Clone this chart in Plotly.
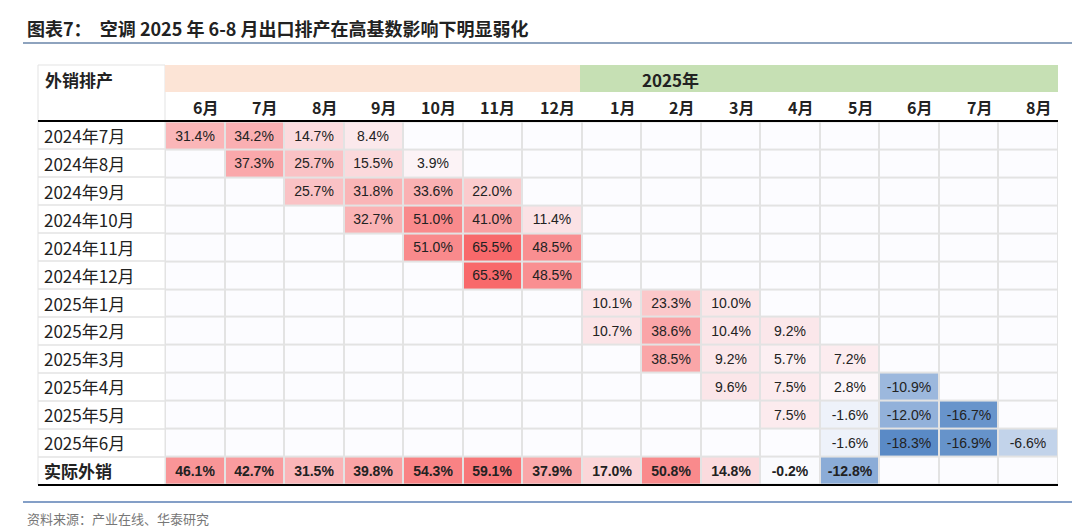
import plotly.graph_objects as go

W, H = 1080, 527
months = ["6月", "7月", "8月", "9月", "10月", "11月", "12月",
          "1月", "2月", "3月", "4月", "5月", "6月 ", "7月 ", "8月 "]
row_labels = ["2024年7月", "2024年8月", "2024年9月", "2024年10月", "2024年11月", "2024年12月",
              "2025年1月", "2025年2月", "2025年3月", "2025年4月", "2025年5月", "2025年6月", "实际外销"]
N = None
values = [
    [31.4, 34.2, 14.7, 8.4, N, N, N, N, N, N, N, N, N, N, N],
    [N, 37.3, 25.7, 15.5, 3.9, N, N, N, N, N, N, N, N, N, N],
    [N, N, 25.7, 31.8, 33.6, 22.0, N, N, N, N, N, N, N, N, N],
    [N, N, N, 32.7, 51.0, 41.0, 11.4, N, N, N, N, N, N, N, N],
    [N, N, N, N, 51.0, 65.5, 48.5, N, N, N, N, N, N, N, N],
    [N, N, N, N, N, 65.3, 48.5, N, N, N, N, N, N, N, N],
    [N, N, N, N, N, N, N, 10.1, 23.3, 10.0, N, N, N, N, N],
    [N, N, N, N, N, N, N, 10.7, 38.6, 10.4, 9.2, N, N, N, N],
    [N, N, N, N, N, N, N, N, 38.5, 9.2, 5.7, 7.2, N, N, N],
    [N, N, N, N, N, N, N, N, N, 9.6, 7.5, 2.8, -10.9, N, N],
    [N, N, N, N, N, N, N, N, N, N, 7.5, -1.6, -12.0, -16.7, N],
    [N, N, N, N, N, N, N, N, N, N, N, -1.6, -18.3, -16.9, -6.6],
    [46.1, 42.7, 31.5, 39.8, 54.3, 59.1, 37.9, 17.0, 50.8, 14.8, -0.2, -12.8, N, N, N],
]

z, text = [], []
for i, row in enumerate(values):
    z.append([0 if v is None else v for v in row])
    bold = i == len(values) - 1
    text.append(["" if v is None else (f"<b>{v:.1f}%</b>" if bold else f"{v:.1f}%") for v in row])

zmin, zmax = -18.3, 65.5
mid = -zmin / (zmax - zmin)

# pixel layout -> paper fractions
x0, x1, xl = 157, 1050, 30
y_top, y_bot = 113, 477
def px(x): return x / W
def py(y): return 1 - y / H

fig = go.Figure(go.Heatmap(
    z=z, x=list(range(15)), y=row_labels, text=text, texttemplate="%{text}",
    textfont=dict(size=14, color="#222", family="Liberation Sans Narrow, Liberation Sans"),
    colorscale=[[0, "#5A8AC6"], [mid, "#FCFCFF"], [1, "#F8696B"]],
    zmin=zmin, zmax=zmax, showscale=False, xgap=2, ygap=2, hoverinfo="skip"))

fig.update_xaxes(domain=[px(x0), px(x1)], showticklabels=False, showgrid=False, zeroline=False,
                 range=[-0.5, 14.5])
fig.update_yaxes(domain=[py(y_bot), py(y_top)], showticklabels=False, showgrid=False, zeroline=False,
                 autorange="reversed")

shapes = [
    dict(type="rect", xref="paper", yref="paper", x0=px(xl), x1=px(x0), y0=py(y_bot), y1=py(57),
         line=dict(color="#e3e3e3", width=1), fillcolor="white", layer="below"),
    dict(type="rect", xref="paper", yref="paper", x0=px(x0), x1=px(572), y0=py(84), y1=py(57),
         line_width=0, fillcolor="#FCE4D6", layer="below"),
    dict(type="rect", xref="paper", yref="paper", x0=px(572), x1=px(x1), y0=py(84), y1=py(57),
         line_width=0, fillcolor="#C6E0B4", layer="below"),
    dict(type="line", xref="paper", yref="paper", x0=px(xl), x1=px(x1), y0=py(y_top), y1=py(y_top),
         line=dict(color="black", width=2)),
    dict(type="line", xref="paper", yref="paper", x0=px(xl), x1=px(x1), y0=py(y_bot), y1=py(y_bot),
         line=dict(color="black", width=2)),
    dict(type="line", xref="paper", yref="paper", x0=px(15), x1=px(1065), y0=py(35), y1=py(35),
         line=dict(color="#8EA3BE", width=2)),
    dict(type="line", xref="paper", yref="paper", x0=px(15), x1=px(1065), y0=py(494), y1=py(494),
         line=dict(color="#5B7FB5", width=1.5)),
]
for k in range(1, 13):
    yy = y_top + k * (y_bot - y_top) / 13
    shapes.append(dict(type="line", xref="paper", yref="paper", x0=px(xl), x1=px(x0),
                       y0=py(yy), y1=py(yy), line=dict(color="#e3e3e3", width=1.5)))

ann = [
    dict(text="<b>图表7：  空调 2025 年 6-8 月出口排产在高基数影响下明显弱化</b>", xref="paper", yref="paper",
         x=px(17), y=py(20), xanchor="left", yanchor="middle", showarrow=False,
         font=dict(size=18, color="#222")),
    dict(text="资料来源：产业在线、华泰研究", xref="paper", yref="paper", x=px(17), y=py(510),
         xanchor="left", yanchor="middle", showarrow=False, font=dict(size=13, color="#777")),
    dict(text="<b>外销排产</b>", xref="paper", yref="paper", x=px(35), y=py(71),
         xanchor="left", yanchor="middle", showarrow=False, font=dict(size=17, color="#222")),
    dict(text="<b>2025年</b>", xref="paper", yref="paper", x=px(662), y=py(71),
         xanchor="center", yanchor="middle", showarrow=False, font=dict(size=17, color="#222")),
]
for j, m in enumerate(months):
    ann.append(dict(text=f"<b>{m.strip()}</b>", xref="x", yref="paper", x=j + 0.42, y=py(99),
                    xanchor="right", yanchor="middle", showarrow=False,
                    font=dict(size=16, color="#222")))
for i, r in enumerate(row_labels):
    last = i == len(row_labels) - 1
    ann.append(dict(text=f"<b>{r}</b>" if last else r, xref="paper", yref="y", x=px(34), y=r,
                    xanchor="left", yanchor="middle", showarrow=False,
                    font=dict(size=17, color="#222")))

fig.update_layout(width=W, height=H, margin=dict(l=0, r=0, t=0, b=0),
                  plot_bgcolor="#e3e3e3", paper_bgcolor="white",
                  font=dict(family="Noto Sans CJK SC"), shapes=shapes, annotations=ann)
fig.write_html("out.html")
